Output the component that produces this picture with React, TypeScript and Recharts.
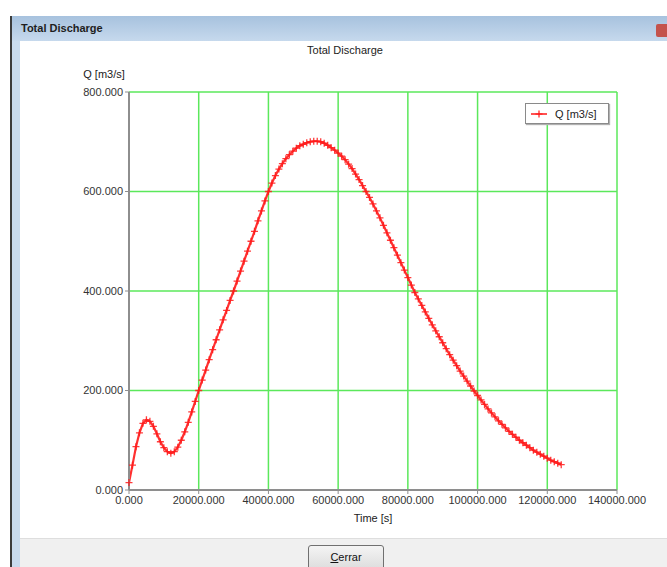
import { LineChart, Line, XAxis, YAxis, CartesianGrid } from "recharts";

// time steps [s]
const times = [
  0, 1000, 2000, 3000, 4000, 5000, 6000, 7000, 8000, 9000,
  10000, 11000, 12000, 13000, 14000, 15000, 16000, 17000, 18000, 19000,
  20000, 21000, 22000, 23000, 24000, 25000, 26000, 27000, 28000, 29000,
  30000, 31000, 32000, 33000, 34000, 35000, 36000, 37000, 38000, 39000,
  40000, 41000, 42000, 43000, 44000, 45000, 46000, 47000, 48000, 49000,
  50000, 51000, 52000, 53000, 54000, 55000, 56000, 57000, 58000, 59000,
  60000, 61000, 62000, 63000, 64000, 65000, 66000, 67000, 68000, 69000,
  70000, 71000, 72000, 73000, 74000, 75000, 76000, 77000, 78000, 79000,
  80000, 81000, 82000, 83000, 84000, 85000, 86000, 87000, 88000, 89000,
  90000, 91000, 92000, 93000, 94000, 95000, 96000, 97000, 98000, 99000,
  100000, 101000, 102000, 103000, 104000, 105000, 106000, 107000, 108000, 109000,
  110000, 111000, 112000, 113000, 114000, 115000, 116000, 117000, 118000, 119000,
  120000, 121000, 122000, 123000, 124000,
];

// total discharge Q [m3/s]
const discharge = [
  15, 50, 87, 115, 134, 141, 138, 128, 113, 97,
  85, 77, 74, 77, 86, 100, 117, 136, 157, 178,
  200, 221, 241, 262, 282, 302, 322, 342, 361, 381,
  400, 420, 440, 460, 480, 500, 520, 541, 561, 581,
  600, 617, 632, 645, 656, 666, 674, 681, 687, 692,
  695, 698, 700, 701, 701, 700, 697, 693, 688, 683,
  677, 671, 664, 655, 646, 635, 624, 612, 600, 588,
  575, 561, 547, 532, 517, 502, 487, 472, 457, 442,
  427, 412, 397, 384, 371, 358, 345, 332, 320, 308,
  296, 284, 272, 261, 250, 239, 229, 219, 209, 199,
  190, 181, 172, 163, 155, 147, 139, 132, 125, 118,
  112, 106, 100, 95, 90, 85, 80, 76, 72, 68,
  64, 60, 57, 54, 51,
];

const xTicks = [0, 20000, 40000, 60000, 80000, 100000, 120000, 140000];
const yTicks = [0, 200, 400, 600, 800];

const data = times.map((t, i) => ({ t, q: discharge[i] }));

const FONT = "'Liberation Sans', Arial, sans-serif";
const RED = "#ff1a1a";

const PlusDot = (props: any) => {
  const { cx, cy, index } = props;
  if (cx == null || cy == null) return <g key={`d-${index}`} />;
  return (
    <path
      key={`d-${index}`}
      d={`M${cx - 3.5},${cy}H${cx + 3.5}M${cx},${cy - 3.5}V${cy + 3.5}`}
      stroke={RED}
      strokeWidth={1.3}
      strokeOpacity={0.85}
      fill="none"
    />
  );
};

export default function App() {
  return (
    <div
      style={{
        position: "absolute",
        left: 0,
        top: 0,
        width: 667,
        height: 567,
        overflow: "hidden",
        background: "#fff",
        fontFamily: FONT,
      }}
    >
      {/* dialog frame */}
      <div style={{ position: "absolute", left: 10, top: 16, width: 2, height: 551, background: "#3c3c3c" }} />
      <div style={{ position: "absolute", left: 12, top: 16, width: 8, height: 551, background: "#c9dbee" }} />
      <div
        style={{
          position: "absolute",
          left: 12,
          top: 16,
          width: 655,
          height: 25,
          background: "linear-gradient(#a7c2de, #c6d9ed)",
        }}
      >
        <span style={{ position: "absolute", left: 9, top: 6, fontSize: 11, fontWeight: "bold", color: "#1e1e1e" }}>
          Total Discharge
        </span>
        <div
          style={{
            position: "absolute",
            left: 644,
            top: 8,
            width: 14,
            height: 13,
            borderRadius: 2,
            background: "#c4534c",
          }}
        />
      </div>
      <div
        style={{
          position: "absolute",
          left: 20,
          top: 538,
          width: 647,
          height: 29,
          background: "#f0f0f0",
          borderTop: "1px solid #dedede",
        }}
      />
      <div
        style={{
          position: "absolute",
          left: 308,
          top: 545,
          width: 74,
          height: 24,
          border: "1px solid #707070",
          borderRadius: 3,
          background: "linear-gradient(#f4f4f4, #dcdcdc)",
          fontSize: 11,
          color: "#111",
          textAlign: "center",
          lineHeight: "22px",
        }}
      >
        <span style={{ textDecoration: "underline" }}>C</span>errar
      </div>

      {/* chart texts */}
      <div style={{ position: "absolute", left: 245, top: 44, width: 200, textAlign: "center", fontSize: 11, color: "#222" }}>
        Total Discharge
      </div>
      <div style={{ position: "absolute", left: 64, top: 68, width: 80, textAlign: "center", fontSize: 11, color: "#222" }}>
        Q [m3/s]
      </div>
      <div style={{ position: "absolute", left: 323, top: 512, width: 100, textAlign: "center", fontSize: 11, color: "#222" }}>
        Time [s]
      </div>

      <LineChart
        width={667}
        height={567}
        data={data}
        margin={{ top: 92, right: 50, bottom: 47, left: 69 }}
        style={{ position: "absolute", left: 0, top: 0 }}
      >
        <CartesianGrid stroke="#5be85b" strokeWidth={1.5} />
        <XAxis
          dataKey="t"
          type="number"
          domain={[0, 140000]}
          ticks={xTicks}
          tickFormatter={(v: number) => v.toFixed(3)}
          tick={{ fill: "#333", fontSize: 11, fontFamily: FONT }}
          axisLine={{ stroke: "#8e8e8e", strokeWidth: 2 }}
          tickLine={{ stroke: "#8e8e8e" }}
          tickSize={4}
          tickMargin={2}
          height={30}
          interval={0}
        />
        <YAxis
          type="number"
          domain={[0, 800]}
          ticks={yTicks}
          tickFormatter={(v: number) => v.toFixed(3)}
          tick={{ fill: "#333", fontSize: 11, fontFamily: FONT }}
          axisLine={{ stroke: "#8e8e8e", strokeWidth: 2 }}
          tickLine={{ stroke: "#8e8e8e" }}
          tickSize={4}
          tickMargin={2}
          width={60}
          interval={0}
        />
        <Line
          type="linear"
          dataKey="q"
          name="Q [m3/s]"
          stroke={RED}
          strokeWidth={2.2}
          strokeOpacity={0.9}
          dot={PlusDot}
          activeDot={false}
          isAnimationActive={false}
        />
      </LineChart>

      {/* legend */}
      <div
        style={{
          position: "absolute",
          left: 525,
          top: 103,
          width: 82,
          height: 19,
          border: "1px solid #8a8a8a",
          boxShadow: "1px 1px 1px #b0b0b0",
          background: "#fff",
          display: "flex",
          alignItems: "center",
          fontSize: 11,
          color: "#222",
        }}
      >
        <svg width={26} height={12}>
          <line x1={5} y1={6} x2={21} y2={6} stroke={RED} strokeWidth={1.5} />
          <path d="M9.5,6H16.5M13,2.5V9.5" stroke={RED} strokeWidth={1.2} />
        </svg>
        <span style={{ marginLeft: 3 }}>Q [m3/s]</span>
      </div>
    </div>
  );
}
